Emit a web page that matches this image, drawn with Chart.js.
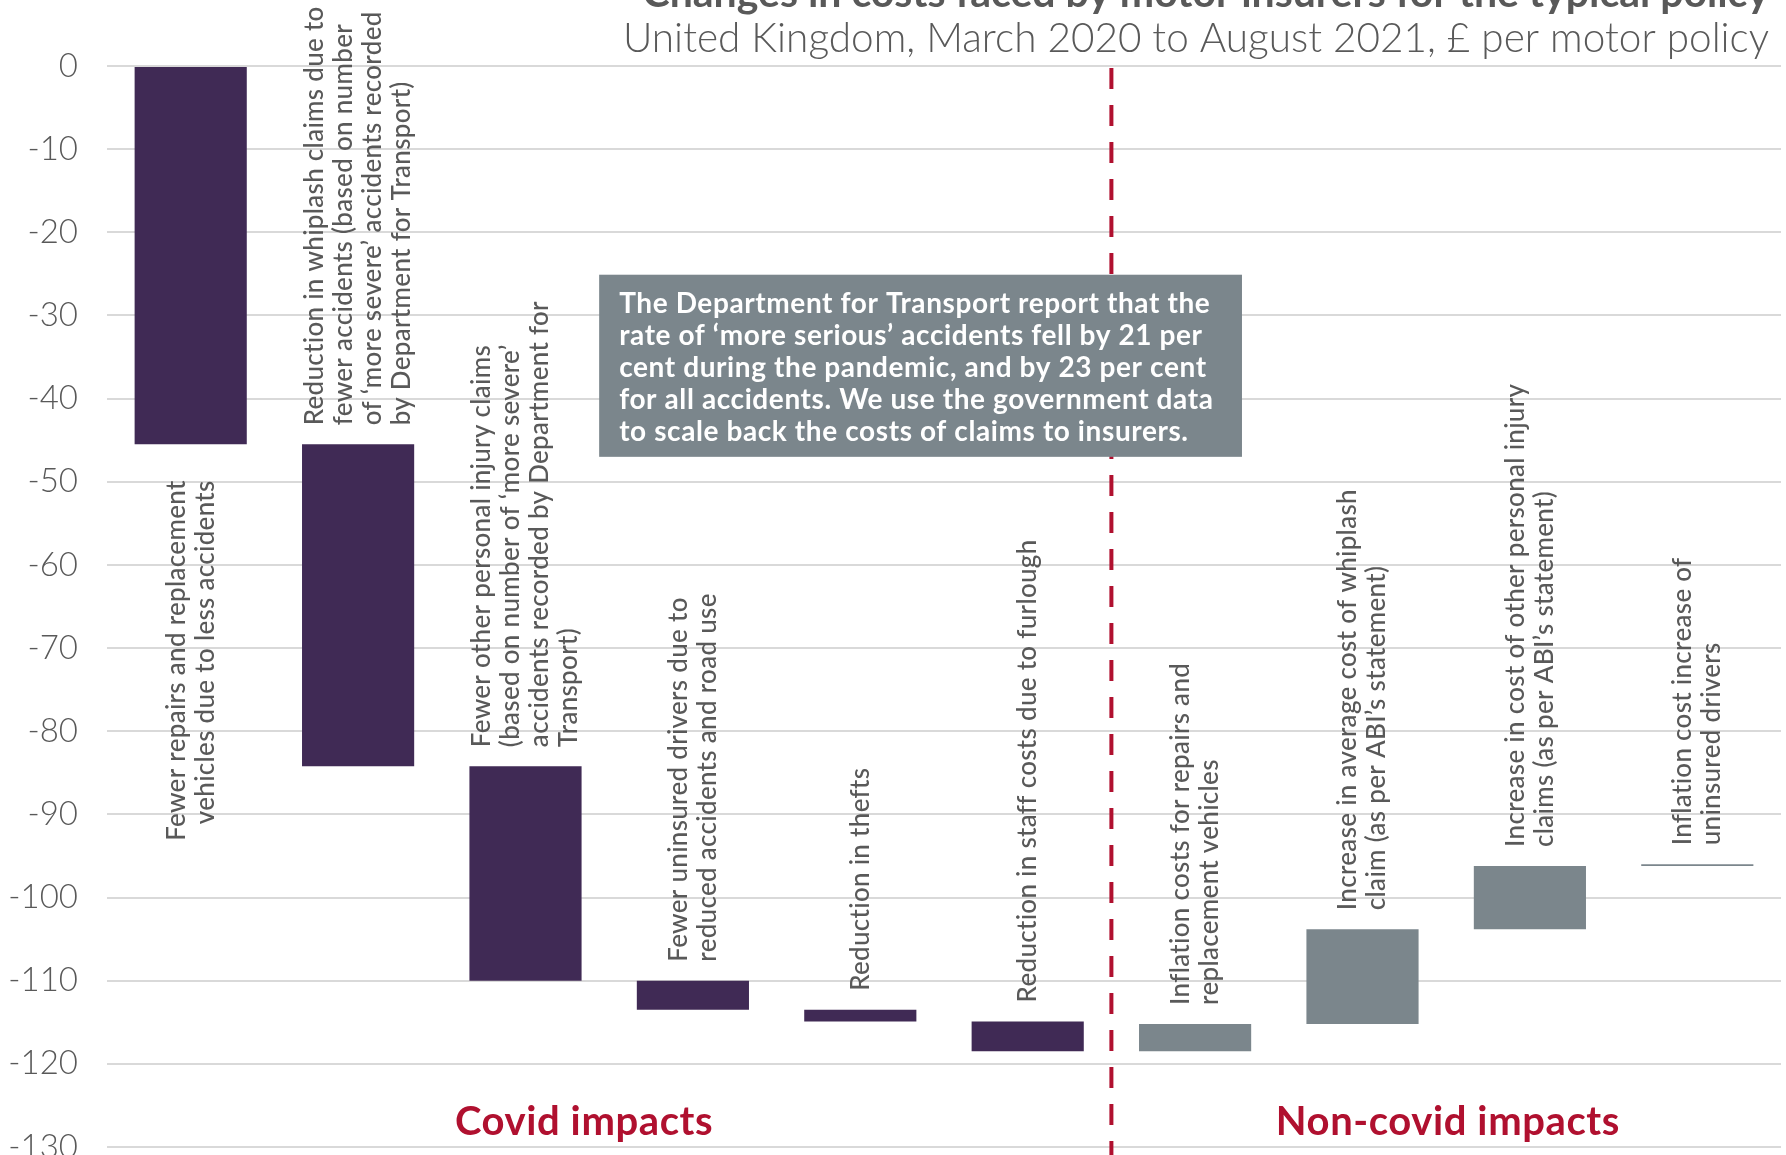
<!DOCTYPE html>
<html>
<head>
<meta charset="utf-8">
<title>Motor insurers costs</title>
<script src="https://cdn.jsdelivr.net/npm/chart.js@4.4.0/dist/chart.umd.min.js"></script>
<style>
  html, body { margin: 0; padding: 0; background: #ffffff; }
</style>
</head>
<body>
<canvas id="myChart" width="1786" height="1155"></canvas>
<script>
// ---- data ----
var categories = [
  ['Fewer repairs and replacement', 'vehicles due to less accidents'],
  ['Reduction in whiplash claims due to', 'fewer accidents (based on number', 'of \u2018more severe\u2019 accidents recorded', 'by Department for Transport)'],
  ['Fewer other personal injury claims', '(based on number of \u2018more severe\u2019', 'accidents recorded by Department for', 'Transport)'],
  ['Fewer uninsured drivers due to', 'reduced accidents and road use'],
  ['Reduction in thefts'],
  ['Reduction in staff costs due to furlough'],
  ['Inflation costs for repairs and', 'replacement vehicles'],
  ['Increase in average cost of whiplash', 'claim (as per ABI\u2019s statement)'],
  ['Increase in cost of other personal injury', 'claims (as per ABI\u2019s statement)'],
  ['Inflation cost increase of', 'uninsured drivers']
];
// running level (£ per policy) at the end of each step
var levels = [-45.5, -84.2, -110.0, -113.5, -114.9, -118.5, -115.2, -103.8, -96.2, -96.0];
var impactType = ['covid', 'covid', 'covid', 'covid', 'covid', 'covid', 'noncovid', 'noncovid', 'noncovid', 'noncovid'];
var labelSide = ['below', 'above', 'above', 'above', 'above', 'above', 'above', 'above', 'above', 'above'];

var yMin = -130, yMax = 0, yStep = 10;

var titleText = 'Changes in costs faced by motor insurers for the typical policy';
var subtitleText = 'United Kingdom, March 2020 to August 2021, \u00a3 per motor policy';
var sectionLabels = ['Covid impacts', 'Non-covid impacts'];
var sectionAt = [2.35, 7.51];
var sectionY = -127.0;
var dividerAt = 5.5;
var noteLines = [
  'The Department for Transport report that the',
  'rate of \u2018more serious\u2019 accidents fell by 21 per',
  'cent during the pandemic, and by 23 per cent',
  'for all accidents. We use the government data',
  'to scale back the costs of claims to insurers.'
];
// note box corners in axis units
var noteBox = { x0: 2.44, x1: 6.28, yTop: -25.1, yBottom: -47.0 };

var colours = { covid: '#402a55', noncovid: '#7b868c' };
var red = '#b0102f';
var textGrey = '#595959';
var fontFamily = 'Lato, "Noto Sans", "DejaVu Sans", sans-serif';

// floating bars: each step runs from the previous level to its own
var steps = levels.map(function (v, i) {
  return [i === 0 ? 0 : levels[i - 1], v];
});

var overlay = {
  id: 'overlay',
  afterDatasetsDraw: function (chart) {
    var ctx = chart.ctx;
    var xs = chart.scales.x, ys = chart.scales.y, area = chart.chartArea;
    var meta = chart.getDatasetMeta(0);
    ctx.save();

    // divider between covid / non-covid
    var dx = xs.getPixelForValue(dividerAt);
    ctx.strokeStyle = red;
    ctx.lineWidth = 4;
    ctx.setLineDash([21, 16]);
    ctx.beginPath();
    ctx.moveTo(dx, area.top + 2);
    ctx.lineTo(dx, chart.height);
    ctx.stroke();
    ctx.setLineDash([]);

    // rotated category labels next to each bar
    ctx.fillStyle = textGrey;
    ctx.font = '500 26px ' + fontFamily;
    ctx.letterSpacing = '0.3px';
    ctx.textBaseline = 'middle';
    var pitch = 29;
    meta.data.forEach(function (el, i) {
      var lines = categories[i];
      var top = Math.min(el.y, el.base), bottom = Math.max(el.y, el.base);
      ctx.save();
      if (labelSide[i] === 'below') {
        ctx.translate(el.x, bottom + 36);
        ctx.rotate(-Math.PI / 2);
        ctx.textAlign = 'right';
      } else {
        ctx.translate(el.x, top - 19);
        ctx.rotate(-Math.PI / 2);
        ctx.textAlign = 'left';
      }
      lines.forEach(function (t, k) {
        ctx.fillText(t, 0, (k - (lines.length - 1) / 2) * pitch);
      });
      ctx.restore();
    });

    // note box
    var bx0 = xs.getPixelForValue(noteBox.x0), bx1 = xs.getPixelForValue(noteBox.x1);
    var by0 = ys.getPixelForValue(noteBox.yTop), by1 = ys.getPixelForValue(noteBox.yBottom);
    ctx.fillStyle = colours.noncovid;
    ctx.fillRect(bx0, by0, bx1 - bx0, by1 - by0);
    ctx.fillStyle = '#ffffff';
    ctx.font = 'bold 28px ' + fontFamily;
    ctx.letterSpacing = '0.6px';
    ctx.textAlign = 'left';
    ctx.textBaseline = 'middle';
    noteLines.forEach(function (t, k) {
      ctx.fillText(t, bx0 + 20, by0 + 29 + k * 32);
    });

    // section headings
    ctx.fillStyle = red;
    ctx.font = 'bold 40px ' + fontFamily;
    ctx.letterSpacing = '0.6px';
    ctx.textAlign = 'center';
    sectionLabels.forEach(function (t, k) {
      ctx.fillText(t, xs.getPixelForValue(sectionAt[k]), ys.getPixelForValue(sectionY));
    });

    // title (runs off the top edge) and subtitle
    ctx.fillStyle = textGrey;
    ctx.textAlign = 'right';
    ctx.textBaseline = 'alphabetic';
    ctx.letterSpacing = '0px';
    ctx.font = 'bold 41px ' + fontFamily;
    ctx.fillText(titleText, 1769, 7);
    ctx.font = '300 40.5px ' + fontFamily;
    ctx.fillText(subtitleText, 1769, 52);

    ctx.restore();
  }
};

var ctx = document.getElementById('myChart').getContext('2d');
var myChart = new Chart(ctx, {
  type: 'bar',
  data: {
    labels: categories,
    datasets: [{
      data: steps,
      backgroundColor: impactType.map(function (t) { return colours[t]; }),
      borderWidth: 0,
      categoryPercentage: 1,
      barPercentage: 0.67
    }]
  },
  options: {
    responsive: false,
    animation: false,
    layout: { padding: { top: 66, right: 5, bottom: 8, left: 0 } },
    plugins: {
      legend: { display: false },
      tooltip: { enabled: false }
    },
    scales: {
      x: { display: false, offset: true },
      y: {
        min: yMin,
        max: yMax,
        ticks: {
          stepSize: yStep,
          padding: 29,
          color: textGrey,
          font: { family: fontFamily, size: 33, weight: '300' }
        },
        grid: { color: '#d9d9d9', lineWidth: 2, drawTicks: false },
        border: { display: false },
        afterFit: function (scale) {
          scale.width = 107;
          scale.paddingTop = 0;
          scale.paddingBottom = 0;
        }
      }
    }
  },
  plugins: [overlay]
});
</script>
</body>
</html>
